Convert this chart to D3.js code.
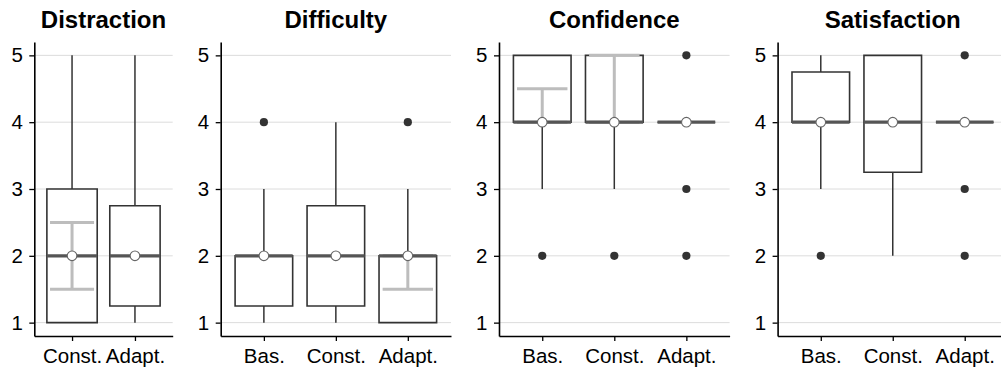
<!DOCTYPE html>
<html>
<head>
<meta charset="utf-8">
<script src="https://cdn.jsdelivr.net/npm/d3@7"></script>
<style>
  html, body { margin: 0; padding: 0; background: #fff; }
  svg { display: block; font-family: "Liberation Sans", Arial, Helvetica, sans-serif; }
</style>
</head>
<body>
<svg id="chart" width="1001" height="371"></svg>
<script>
// Questionnaire ratings (1-5) per condition, one facet per measure
const measures = ["Distraction", "Difficulty", "Confidence", "Satisfaction"];
const conditions = [
  ["Const.", "Adapt."],
  ["Bas.", "Const.", "Adapt."],
  ["Bas.", "Const.", "Adapt."],
  ["Bas.", "Const.", "Adapt."]
];
const whiskerLow  = [[1, 1], [1, 1, 1], [3, 3, 4], [3, 2, 4]];
const quartile1   = [[1, 1.25], [1.25, 1.25, 1], [4, 4, 4], [4, 3.25, 4]];
const medians     = [[2, 2], [2, 2, 2], [4, 4, 4], [4, 4, 4]];
const quartile3   = [[3, 2.75], [2, 2.75, 2], [5, 5, 4], [4.75, 5, 4]];
const whiskerHigh = [[5, 5], [3, 4, 3], [5, 5, 4], [5, 5, 4]];
const outliers    = [[[], []], [[4], [], [4]], [[2], [2], [2, 3, 5]], [[2], [], [2, 3, 5]]];
const means       = [[2, 2], [2, 2, 2], [4, 4, 4], [4, 4, 4]];
const ciLow       = [[1.5, 2], [2, 2, 1.5], [4, 4, 4], [4, 4, 4]];
const ciHigh      = [[2.5, 2], [2, 2, 2], [4.5, 5, 4], [4, 4, 4]];
const ratingTicks = [1, 2, 3, 4, 5];

// Facet layout
const panelWidths = [138.4, 230.3, 230.6, 230.3];
const firstLeft = 34.3;
const panelGap = 48;
const plotTop = 42, plotBottom = 336;

const svg = d3.select("#chart");
const y = d3.scaleLinear().domain([0.8, 5.2]).range([plotBottom, plotTop]);

let left = firstLeft;
measures.forEach((measure, p) => {
  const right = left + panelWidths[p];
  const x = d3.scalePoint().domain(conditions[p]).range([left, right]).padding(0.6);
  const step = x.step();
  const boxW = step * 0.8;
  const capW = step * 0.7;
  const g = svg.append("g");

  // horizontal grid
  g.append("g").selectAll("line").data(ratingTicks).join("line")
    .attr("x1", left).attr("x2", right)
    .attr("y1", d => y(d)).attr("y2", d => y(d))
    .attr("stroke", "#dcdcdc").attr("stroke-width", 1);

  // axes
  const yAxis = g.append("g").attr("transform", `translate(${left},0)`)
    .call(d3.axisLeft(y).tickValues(ratingTicks).tickFormat(d3.format("d"))
      .tickSize(5).tickSizeOuter(0).tickPadding(6.5));
  const xAxis = g.append("g").attr("transform", `translate(0,${plotBottom})`)
    .call(d3.axisBottom(x).tickSize(5).tickSizeOuter(0).tickPadding(7));
  [yAxis, xAxis].forEach(a => {
    a.select(".domain").attr("stroke", "#000").attr("stroke-width", 1.6);
    a.selectAll(".tick line").attr("stroke", "#000").attr("stroke-width", 1.3);
    a.selectAll(".tick text").attr("fill", "#000").style("font-size", "20.5px")
      .style("font-family", "'Liberation Sans', Arial, sans-serif");
  });

  // title
  g.append("text")
    .attr("x", (left + right) / 2).attr("y", 27.5)
    .attr("text-anchor", "middle")
    .style("font-size", "24px").style("font-weight", "bold")
    .attr("fill", "#000")
    .text(measure);

  conditions[p].forEach((c, i) => {
    const cx = x(c);
    const cg = g.append("g");
    // whiskers
    cg.append("line").attr("x1", cx).attr("x2", cx)
      .attr("y1", y(quartile3[p][i])).attr("y2", y(whiskerHigh[p][i]))
      .attr("stroke", "#333").attr("stroke-width", 1.5);
    cg.append("line").attr("x1", cx).attr("x2", cx)
      .attr("y1", y(quartile1[p][i])).attr("y2", y(whiskerLow[p][i]))
      .attr("stroke", "#333").attr("stroke-width", 1.5);
    // box
    const x0 = cx - boxW / 2, x1 = cx + boxW / 2;
    const yq1 = y(quartile1[p][i]), yq3 = y(quartile3[p][i]);
    cg.append("path")
      .attr("d", `M${x0},${yq3}H${x1}V${yq1}H${x0}Z`)
      .attr("fill", "#fff").attr("stroke", "#333").attr("stroke-width", 1.6);
    // interval bar
    if (ciLow[p][i] !== ciHigh[p][i]) {
      const eb = cg.append("g").attr("stroke", "#bdbdbd").attr("stroke-width", 3);
      eb.append("line").attr("x1", cx).attr("x2", cx)
        .attr("y1", y(ciLow[p][i])).attr("y2", y(ciHigh[p][i]));
      [ciLow[p][i], ciHigh[p][i]].forEach(v => {
        eb.append("line").attr("x1", cx - capW / 2).attr("x2", cx + capW / 2)
          .attr("y1", y(v)).attr("y2", y(v));
      });
    }
    // median
    cg.append("line").attr("x1", x0).attr("x2", x1)
      .attr("y1", y(medians[p][i])).attr("y2", y(medians[p][i]))
      .attr("stroke", "#555").attr("stroke-width", 3.2);
    // outliers
    cg.selectAll("circle.out").data(outliers[p][i]).join("circle")
      .attr("class", "out")
      .attr("cx", cx).attr("cy", d => y(d)).attr("r", 4.1)
      .attr("fill", "#333");
    // mean
    cg.append("circle").attr("cx", cx).attr("cy", y(means[p][i])).attr("r", 4.8)
      .attr("fill", "#fff").attr("stroke", "#666").attr("stroke-width", 1.1);
  });

  left = right + panelGap;
});
</script>
</body>
</html>
